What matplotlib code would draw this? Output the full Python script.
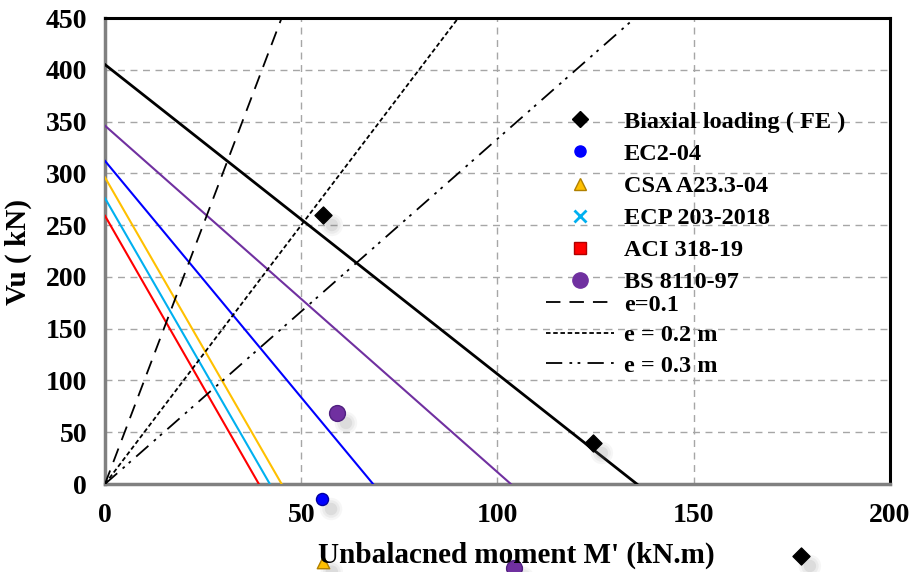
import matplotlib
matplotlib.use("Agg")
import matplotlib.pyplot as plt
from matplotlib.lines import Line2D
from matplotlib.transforms import offset_copy
import numpy as np

plt.rcParams['font.family'] = ['Liberation Serif', 'DejaVu Serif']
plt.rcParams['font.weight'] = 'bold'

# Design interaction lines: (M at V=0, V at M=0)
line_names = ["Biaxial", "BS 8110-97", "EC2-04", "CSA A23.3-04", "ECP 203-2018", "ACI 318-19"]
line_v0 = [405, 346, 312, 296, 276, 259]
line_m0 = [135.5, 103.4, 68.3, 45.0, 42.0, 39.2]
line_colors = ["#000000", "#7030A0", "#0000FF", "#FFC000", "#00B0F0", "#FF0000"]
line_widths = [2.0, 1.5, 1.5, 1.5, 1.5, 1.5]

# Eccentricity lines V = M / e
ecc = [0.1, 0.2, 0.3]
ecc_labels = ["e=0.1", "e = 0.2 m", "e = 0.3 m"]

# Points
fe_m = [55.5, 124.3, 177.3]
fe_v = [259.8, 39.6, -69.5]
ec2_m = [55.3]
ec2_v = [-14.5]
csa_m = [55.5]
csa_v = [-75.0]
bs_m = [59.1, 104.2]
bs_v = [68.6, -81.0]

xticks = [0, 50, 100, 150, 200]
yticks = [0, 50, 100, 150, 200, 250, 300, 350, 400, 450]

fig = plt.figure(figsize=(9.12, 5.72), dpi=100)
ax = fig.add_axes([105/912, 1-484/572, 785/912, 466/572])
ax.set_xlim(0, 200)
ax.set_ylim(0, 450)

for v0, m0, c, lw in zip(line_v0, line_m0, line_colors, line_widths):
    ax.plot([0, m0], [v0, 0], color=c, lw=lw, zorder=3)

m_e = np.array([0, 200])
styles = [(0, (8, 5)), (0, (2.5, 1.5)), (0, (9, 4, 1.5, 3, 1.5, 4))]
for e, ls in zip(ecc, styles):
    ax.plot(m_e, m_e / e, color="black", lw=1.3, linestyle=ls, zorder=3)

# shadows
sh = offset_copy(ax.transData, fig=fig, x=9, y=-10, units='dots')
allm = fe_m + ec2_m + csa_m + bs_m
allv = fe_v + ec2_v + csa_v + bs_v
for s, a in [(260, 0.06), (160, 0.08), (80, 0.12)]:
    ax.scatter(allm, allv, s=s, color="#707070", alpha=a, edgecolors='none',
               transform=sh, clip_on=False, zorder=4)

ax.scatter(fe_m, fe_v, marker='D', s=75, color='black', clip_on=False, zorder=5)
ax.scatter(ec2_m, ec2_v, marker='o', s=75, color='#0000FF', edgecolors='#0000A0', clip_on=False, zorder=5)
ax.scatter(csa_m, csa_v, marker='^', s=80, color='#FFC000', edgecolors='#B08000', clip_on=False, zorder=5)
ax.scatter(bs_m, bs_v, marker='o', s=130, color='#7030A0', edgecolors='#502080', clip_on=False, zorder=5)

ax.set_xticks(xticks)
ax.set_yticks(yticks)
ax.tick_params(length=0, labelsize=20, pad=13)
ax.tick_params(axis='x', pad=14)
for lab in ax.get_xticklabels() + ax.get_yticklabels():
    lab.set_fontweight('bold')
ax.grid(True, color="#a6a6a6", linestyle=(0, (5, 4)), lw=1)
ax.set_axisbelow(True)

for s in ['left', 'bottom']:
    ax.spines[s].set_color('#808080')
    ax.spines[s].set_linewidth(2.5)
for s in ['top', 'right']:
    ax.spines[s].set_color('black')
    ax.spines[s].set_linewidth(2.2)

fig.text(516/912, 1-555/572, "Unbalacned moment M' (kN.m)", ha='center', va='center',
         fontsize=21, fontweight='bold')
fig.text(18/912, 1-252/572, "Vu ( kN)", ha='center', va='center', rotation=90,
         fontsize=21, fontweight='bold')

handles1 = [
    Line2D([], [], marker='D', color='black', ls='none', markersize=8),
    Line2D([], [], marker='o', color='#0000FF', ls='none', markersize=8),
    Line2D([], [], marker='^', color='#FFC000', markeredgecolor='#B08000', ls='none', markersize=9),
    Line2D([], [], marker='x', color='#00B0F0', ls='none', markersize=8, markeredgewidth=2),
    Line2D([], [], marker='s', color='#FF0000', markeredgecolor='#B00000', ls='none', markersize=8),
    Line2D([], [], marker='o', color='#7030A0', ls='none', markersize=11),
]
labels1 = ["Biaxial loading ( FE )", "EC2-04", "CSA A23.3-04", "ECP 203-2018", "ACI 318-19",
           "BS 8110-97"]
handles2 = [Line2D([], [], color='black', lw=1.3, ls=st) for st in styles]

fig.legend(handles1, labels1, loc='upper left', bbox_to_anchor=(524/912, 1-89/572),
           frameon=False, handlelength=2.8, handletextpad=0.4,
           labelspacing=0.415, prop={'weight': 'bold', 'size': 17.5})
fig.legend(handles2, ecc_labels, loc='upper left', bbox_to_anchor=(524/912, 1-272/572),
           frameon=False, handlelength=2.8, handletextpad=0.4,
           labelspacing=0.35, prop={'weight': 'bold', 'size': 17.5})

fig.savefig("out.png", dpi=100)
